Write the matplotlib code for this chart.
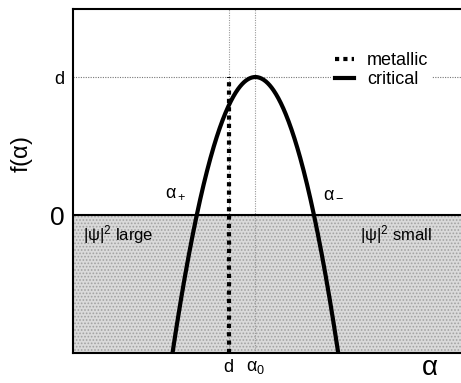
import numpy as np
import matplotlib
matplotlib.use("Agg")
import matplotlib.pyplot as plt

plt.rcParams['font.family'] = ['Liberation Sans', 'DejaVu Sans']
plt.rcParams['mathtext.fontset'] = 'custom'
plt.rcParams['mathtext.rm'] = 'Liberation Sans'
plt.rcParams['mathtext.it'] = 'Liberation Sans'
plt.rcParams['mathtext.bf'] = 'Liberation Sans'
plt.rcParams['hatch.linewidth'] = 0.8

# Schematic multifractal spectrum (axis units are arbitrary)
d_dim = 1.0            # peak height f(alpha0) = d
d_alpha = 0.401        # position of alpha = d (metallic state)
alpha0 = 0.470         # maximum of the critical spectrum
alpha_plus = 0.317     # f(alpha_+) = 0
alpha_minus = 0.619    # f(alpha_-) = 0
x_range = (0.0, 1.0)
y_range = (-1.0, 1.493)

legend_labels = ['metallic', 'critical']
xtick_labels = ['d', r'$\alpha_0$']
ytick_labels = ['0', 'd']

fig = plt.figure(figsize=(4.61, 3.83), dpi=100)
ax = fig.add_axes([73 / 461, 1 - 353 / 383, 1 - 73 / 461, (353 - 9) / 383])
ax.set_xlim(*x_range)
ax.set_ylim(*y_range)

# parabolic critical spectrum f(alpha) = d - c (alpha - alpha0)^2
half_width = 0.5 * (alpha_minus - alpha_plus)
a = np.linspace(x_range[0], x_range[1], 800)
f = d_dim * (1 - ((a - alpha0) / half_width) ** 2)

# stippled shading of the region f < 0
ax.fill_between(x_range, [y_range[0]] * 2, [0, 0], facecolor='#dadada',
                edgecolor='#a2a2a2', hatch='.....', linewidth=0, zorder=0)

# guide lines
ax.axhline(d_dim, color='#777777', lw=0.8, ls=(0, (1, 1.2)), zorder=1)
ax.axvline(d_alpha, color='#999999', lw=0.8, ls=(0, (1, 1.2)), zorder=1)
ax.axvline(alpha0, color='#999999', lw=0.8, ls=(0, (1, 1.2)), zorder=1)
ax.axhline(0, color='black', lw=1.5, zorder=2)

ln_met, = ax.plot([d_alpha, d_alpha], [y_range[0], d_dim], color='black',
                  lw=3, ls=(0, (1, 1)), zorder=3)
ln_crit, = ax.plot(a, f, color='black', lw=3, zorder=4)

# axes frame
for s in ['left', 'top', 'bottom']:
    ax.spines[s].set_linewidth(1.5)
ax.spines['right'].set_visible(False)

ax.set_xticks([d_alpha, alpha0], xtick_labels)
ax.set_yticks([0, d_dim], ytick_labels)
ax.tick_params(length=0, pad=4, labelsize=13)
ax.tick_params(axis='y', pad=6)
ax.get_yticklabels()[0].set_fontsize(19)

# axis titles
ax.text(0.92, -0.043, r'$\alpha$', fontsize=20, ha='center', va='center',
        transform=ax.transAxes)
ax.text(-0.132, 0.575, r'f($\alpha$)', fontsize=17, ha='center', va='center',
        rotation=90, transform=ax.transAxes)

# annotations
ax.text(alpha_plus - 0.08, 0.13, r'$\alpha_+$', fontsize=13)
ax.text(alpha_minus + 0.025, 0.13, r'$\alpha_-$', fontsize=13)
ax.text(0.025, -0.14, r'$|\psi|^2$ large', fontsize=12, va='center')
ax.text(0.74, -0.14, r'$|\psi|^2$ small', fontsize=12, va='center')

leg = ax.legend([ln_met, ln_crit], legend_labels, loc='upper left',
                bbox_to_anchor=(0.665, 0.885), fontsize=13, frameon=True,
                framealpha=1, edgecolor='none', fancybox=False,
                handlelength=1.1, handletextpad=0.7, labelspacing=0.1,
                borderpad=0.2, borderaxespad=0)

fig.savefig('out.png', dpi=100)
